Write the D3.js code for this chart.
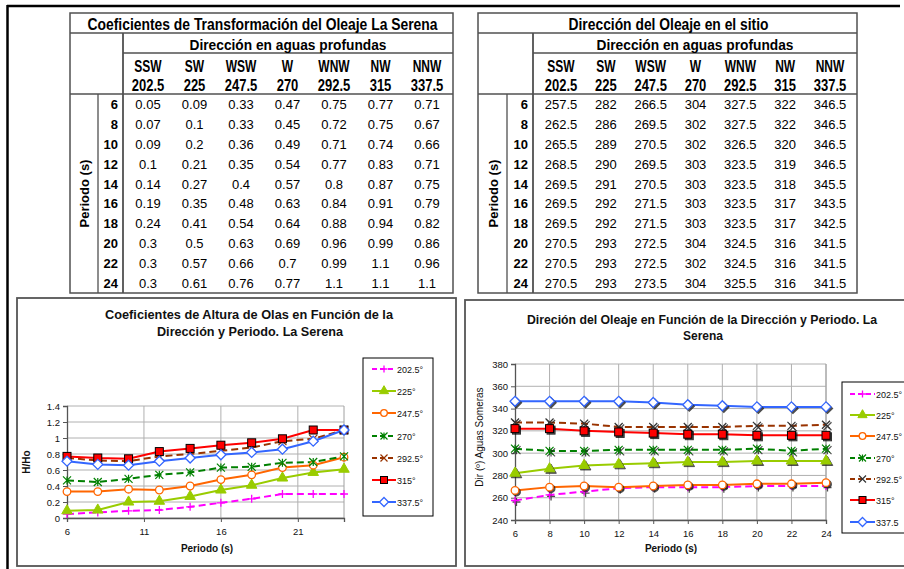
<!DOCTYPE html>
<html><head><meta charset="utf-8">
<script src="https://cdn.jsdelivr.net/npm/d3@7"></script>
<style>body{margin:0;background:#fff} svg{display:block;font-family:"Liberation Sans",Arial,sans-serif}</style>
</head><body><svg id="c" width="904" height="569"></svg>
<script>
// ---------------- DATA ----------------
const periods = [6, 8, 10, 12, 14, 16, 18, 20, 22, 24];
const dirNames = ["SSW", "SW", "WSW", "W", "WNW", "NW", "NNW"];
const dirDegrees = ["202.5", "225", "247.5", "270", "292.5", "315", "337.5"];

// Coeficientes de transformación (por dirección, valores para cada periodo)
const coef202 = [0.05, 0.07, 0.09, 0.1, 0.14, 0.19, 0.24, 0.3, 0.3, 0.3];
const coef225 = [0.09, 0.1, 0.2, 0.21, 0.27, 0.35, 0.41, 0.5, 0.57, 0.61];
const coef247 = [0.33, 0.33, 0.36, 0.35, 0.4, 0.48, 0.54, 0.63, 0.66, 0.76];
const coef270 = [0.47, 0.45, 0.49, 0.54, 0.57, 0.63, 0.64, 0.69, 0.7, 0.77];
const coef292 = [0.75, 0.72, 0.71, 0.77, 0.8, 0.84, 0.88, 0.96, 0.99, 1.1];
const coef315 = [0.77, 0.75, 0.74, 0.83, 0.87, 0.91, 0.94, 0.99, 1.1, 1.1];
const coef337 = [0.71, 0.67, 0.66, 0.71, 0.75, 0.79, 0.82, 0.86, 0.96, 1.1];

// Dirección del oleaje en el sitio
const dir202 = [257.5, 262.5, 265.5, 268.5, 269.5, 269.5, 269.5, 270.5, 270.5, 270.5];
const dir225 = [282, 286, 289, 290, 291, 292, 292, 293, 293, 293];
const dir247 = [266.5, 269.5, 270.5, 269.5, 270.5, 271.5, 271.5, 272.5, 272.5, 273.5];
const dir270 = [304, 302, 302, 303, 303, 303, 303, 304, 302, 304];
const dir292 = [327.5, 327.5, 326.5, 323.5, 323.5, 323.5, 323.5, 324.5, 324.5, 325.5];
const dir315 = [322, 322, 320, 319, 318, 317, 317, 316, 316, 316];
const dir337 = [346.5, 346.5, 346.5, 346.5, 345.5, 343.5, 342.5, 341.5, 341.5, 341.5];

const coefSeries = [coef202, coef225, coef247, coef270, coef292, coef315, coef337];
const dirSeries = [dir202, dir225, dir247, dir270, dir292, dir315, dir337];

const legendCoef = ["202.5°", "225°", "247.5°", "270°", "292.5°", "315°", "337.5°"];
const legendDir = ["202.5°", "225°", "247.5°", "270°", "292.5°", "315°", "337.5"];

const coefYTicks = [0, 0.2, 0.4, 0.6, 0.8, 1, 1.2, 1.4];
const coefXTicks = [6, 11, 16, 21];
const dirYTicks = [240, 260, 280, 300, 320, 340, 360, 380];
const dirXTicks = [6, 8, 10, 12, 14, 16, 18, 20, 22, 24];

// ---------------- STYLE ----------------
const styles = [
  {color: "#FF00FF", dash: "7,4", marker: "plus"},
  {color: "#99CC00", dash: null, marker: "triangle"},
  {color: "#FF6600", dash: null, marker: "circle"},
  {color: "#008000", dash: "7,4", marker: "asterisk"},
  {color: "#993300", dash: "7,4", marker: "cross"},
  {color: "#FF0000", dash: null, marker: "square"},
  {color: "#3366FF", dash: null, marker: "diamond"}
];

const svg = d3.select("#c");
const FONT = '"Liberation Sans", Arial, sans-serif';

function txt(g, x, y, s, o = {}) {
  const t = g.append("text")
    .attr("transform", `translate(${x},${y}) scale(1,${o.sy || 1})` + (o.rot ? ` rotate(${o.rot})` : ""))
    .attr("font-size", o.size || 12)
    .attr("font-weight", o.weight || "normal")
    .attr("text-anchor", o.anchor || "middle")
    .attr("fill", o.fill || "#000")
    .text(s);
  if (o.len) t.attr("textLength", o.len).attr("lengthAdjust", "spacingAndGlyphs");
  return t;
}

// outer black frame
svg.append("line").attr("x1", 7).attr("x2", 900).attr("y1", 6).attr("y2", 6).attr("stroke", "#000").attr("stroke-width", 2.5);
svg.append("line").attr("x1", 7.5).attr("x2", 7.5).attr("y1", 5).attr("y2", 569).attr("stroke", "#000").attr("stroke-width", 2.5);

// ---------------- TABLES ----------------
function drawTable(cfg) {
  const g = svg.append("g");
  const {x0, x1, divX, perX, title, titleLen, series, colRange, numX} = cfg;
  const yTop = 13, yBot = 293;
  const line = (a, b, c, d, w) => g.append("line").attr("x1", a).attr("y1", b).attr("x2", c).attr("y2", d)
    .attr("stroke", "#505050").attr("stroke-width", w || 1.3);
  g.append("rect").attr("x", x0).attr("y", yTop).attr("width", x1 - x0).attr("height", yBot - yTop)
    .attr("fill", "#fff").attr("stroke", "#505050").attr("stroke-width", 1.5);
  line(x0, 33, x1, 33);
  line(divX, 53, x1, 53);
  line(x0, 94, x1, 94);
  line(divX, 33, divX, yBot, 1.8);
  line(perX, 94, perX, yBot, 1.3);

  txt(g, (x0 + x1) / 2 + 1, 30, title, {size: 12.5, weight: "bold", sy: 1.25, len: titleLen});
  txt(g, (divX + x1) / 2, 50, "Dirección en aguas profundas", {size: 12.5, weight: "bold", sy: 1.2, len: 197});

  const col = d3.scalePoint().domain(dirDegrees).range(colRange);
  const row = d3.scaleBand().domain(periods).range([94, yBot]);

  dirNames.forEach((n, i) => txt(g, col(dirDegrees[i]), 72, n, {size: 12, weight: "bold", sy: 1.3}));
  dirDegrees.forEach(d => txt(g, col(d), 91, d, {size: 13, weight: "bold", sy: 1.3}));

  periods.forEach((p, r) => {
    const yc = row(p) + row.bandwidth() / 2 + 5;
    txt(g, numX, yc, String(p), {size: 13, weight: "bold", anchor: "end", sy: 1.05});
    series.forEach((s, c) => txt(g, col(dirDegrees[c]), yc, String(s[r]), {size: 13, sy: 1.05}));
  });
  txt(g, (x0 + perX) / 2 + 5, (94 + yBot) / 2, "Periodo (s)", {size: 13, weight: "bold", rot: -90});
}

drawTable({x0: 70, x1: 453, divX: 123, perX: 98, title: "Coeficientes de Transformación  del Oleaje La Serena",
  titleLen: 350, series: coefSeries, colRange: [148, 427], numX: 118});
drawTable({x0: 478, x1: 857, divX: 533, perX: 507, title: "Dirección del Oleaje en el sitio",
  titleLen: 200, series: dirSeries, colRange: [561, 830], numX: 528});

// ---------------- MARKERS ----------------
function marker(g, type, color, x, y, s, shadow) {
  const m = g.append("g").attr("transform", `translate(${x},${y})`);
  const h = s / 2;
  const draw = (mm, dark) => {
    const stroke = dark ? "#222" : color;
    switch (type) {
      case "plus":
        mm.append("path").attr("d", `M${-h},0H${h}M0,${-h}V${h}`).attr("stroke", stroke).attr("stroke-width", 1.3).attr("fill", "none");
        break;
      case "triangle":
        mm.append("path").attr("d", d3.symbol(d3.symbolTriangle, s * s * 0.75)()).attr("fill", dark ? "#222" : color).attr("stroke", dark ? "#222" : color);
        break;
      case "circle":
        mm.append("circle").attr("r", h * 0.95).attr("fill", dark ? "#222" : "#fff").attr("stroke", stroke).attr("stroke-width", 1.3);
        break;
      case "asterisk":
        mm.append("path").attr("d", `M${-h},${-h}L${h},${h}M${-h},${h}L${h},${-h}M0,${-h}V${h}`).attr("stroke", stroke).attr("stroke-width", 1.2).attr("fill", "none");
        break;
      case "cross":
        mm.append("path").attr("d", `M${-h},${-h}L${h},${h}M${-h},${h}L${h},${-h}`).attr("stroke", dark ? "#222" : cfgCrossColor(color)).attr("stroke-width", 1.2).attr("fill", "none");
        break;
      case "square":
        mm.append("rect").attr("x", -h).attr("y", -h).attr("width", s).attr("height", s).attr("fill", dark ? "#222" : color).attr("stroke", "#000").attr("stroke-width", 1);
        break;
      case "diamond":
        mm.append("path").attr("d", `M0,${-h - 1}L${h + 1},0L0,${h + 1}L${-h - 1},0Z`).attr("fill", dark ? "#222" : "#fff").attr("stroke", stroke).attr("stroke-width", 1.3);
        break;
    }
  };
  if (shadow) draw(m.append("g").attr("transform", "translate(1.5,1.5)").attr("opacity", 0.8), true);
  draw(m, false);
}
let crossDark = false;
function cfgCrossColor(c) { return crossDark ? "#333" : c; }

// ---------------- CHARTS ----------------
function drawChart(cfg) {
  const g = svg.append("g");
  const {frame, xr, yr, xdom, ydom, xTicks, yTicks, yFmt, series, legend, leg, titles, xTitle, yTitle, shadow, xGrid} = cfg;
  g.append("rect").attr("x", frame[0]).attr("y", frame[1]).attr("width", frame[2]).attr("height", frame[3])
    .attr("fill", "#fff").attr("stroke", "#555").attr("stroke-width", 1.8);
  titles.forEach(t => txt(g, t.x, t.y, t.s, {size: 11, weight: "bold", sy: 1.2, len: t.len, fill: "#111"}));

  const x = d3.scaleLinear().domain(xdom).range(xr);
  const y = d3.scaleLinear().domain(ydom).range(yr);

  // grid
  yTicks.forEach(v => g.append("line").attr("x1", xr[0]).attr("x2", xr[1]).attr("y1", y(v)).attr("y2", y(v))
    .attr("stroke", "#B0B0B0").attr("stroke-width", 1));
  xGrid.forEach(v => g.append("line").attr("x1", x(v)).attr("x2", x(v)).attr("y1", yr[0]).attr("y2", yr[1])
    .attr("stroke", "#B0B0B0").attr("stroke-width", 1));
  g.append("line").attr("x1", xr[1]).attr("x2", xr[1]).attr("y1", yr[0]).attr("y2", yr[1]).attr("stroke", "#A0A0A0");

  // axes
  const yAx = g.append("g").attr("transform", `translate(${xr[0]},0)`)
    .call(d3.axisLeft(y).tickValues(yTicks).tickSize(4).tickFormat(yFmt));
  const xAx = g.append("g").attr("transform", `translate(0,${yr[0]})`)
    .call(d3.axisBottom(x).tickValues(xTicks).tickSize(4).tickFormat(d3.format("d")));
  [yAx, xAx].forEach(a => {
    a.select(".domain").attr("stroke", "#555").attr("stroke-width", 1.3);
    a.selectAll(".tick line").attr("stroke", "#555");
    a.selectAll("text").attr("font-family", FONT).attr("font-size", 9.5).attr("fill", "#111");
  });
  yAx.selectAll("text").attr("x", -7);
  xAx.selectAll("text").attr("y", 10);

  // series
  const line = d3.line().x((d, i) => x(periods[i])).y(d => y(d));
  series.forEach((s, i) => {
    g.append("path").attr("d", line(s)).attr("fill", "none").attr("stroke", styles[i].color)
      .attr("stroke-width", 2).attr("stroke-dasharray", styles[i].dash);
  });
  series.forEach((s, i) => {
    crossDark = shadow;
    s.forEach((v, j) => marker(g, styles[i].marker, styles[i].color, x(periods[j]), y(v), 8, shadow));
  });

  // titles
  txt(g, xTitle.x, xTitle.y, "Periodo (s)", {size: 10, weight: "bold", fill: "#111"});
  txt(g, yTitle.x, yTitle.y, yTitle.s, {size: yTitle.size, weight: yTitle.weight, rot: -90, fill: "#111"});

  // legend
  g.append("rect").attr("x", leg.x).attr("y", leg.y).attr("width", leg.w).attr("height", leg.h)
    .attr("fill", "#fff").attr("stroke", "#000").attr("stroke-width", 1);
  legend.forEach((lab, i) => {
    const yy = leg.rows[i];
    g.append("line").attr("x1", leg.lx0).attr("x2", leg.lx1).attr("y1", yy).attr("y2", yy)
      .attr("stroke", styles[i].color).attr("stroke-width", 2).attr("stroke-dasharray", styles[i].dash ? "5,3" : null);
    crossDark = shadow;
    marker(g, styles[i].marker, styles[i].color, (leg.lx0 + leg.lx1) / 2, yy, 7, false);
    txt(g, leg.lx1 + 1, yy + 3.5, lab, {size: 9, anchor: "start", fill: "#111"});
  });
}

drawChart({
  frame: [17, 298, 439, 268],
  xr: [67, 344], yr: [518, 406], xdom: [6, 24], ydom: [0, 1.4],
  xTicks: coefXTicks, yTicks: coefYTicks, yFmt: d3.format("~g"), xGrid: [11, 16, 21],
  series: coefSeries, legend: legendCoef, shadow: false,
  leg: {x: 363, y: 358, w: 70, h: 158, lx0: 372, lx1: 396, rows: [369, 391, 413, 436, 458, 480, 502]},
  titles: [
    {x: 249, y: 319, s: "Coeficientes de Altura de Olas en Función de la", len: 288},
    {x: 250, y: 336, s: "Dirección y Periodo. La Serena", len: 186}
  ],
  xTitle: {x: 207, y: 552},
  yTitle: {x: 30, y: 462, s: "H/Ho", size: 10, weight: "bold"}
});

drawChart({
  frame: [465, 300, 450, 266],
  xr: [515, 826], yr: [520, 364], xdom: [6, 24], ydom: [240, 380],
  xTicks: dirXTicks, yTicks: dirYTicks, yFmt: d3.format("d"), xGrid: dirXTicks.slice(1),
  series: dirSeries, legend: legendDir, shadow: true,
  leg: {x: 842, y: 382, w: 70, h: 151, lx0: 850, lx1: 875, rows: [394, 415, 436, 458, 479, 500, 522]},
  titles: [
    {x: 702, y: 324, s: "Direción del Oleaje en Función de la Dirección y Periodo. La", len: 350},
    {x: 703, y: 340, s: "Serena", len: 40}
  ],
  xTitle: {x: 671, y: 552},
  yTitle: {x: 483, y: 437, s: "Dir (º) Aguas Someras", size: 10, weight: "normal"}
});
</script></body></html>
